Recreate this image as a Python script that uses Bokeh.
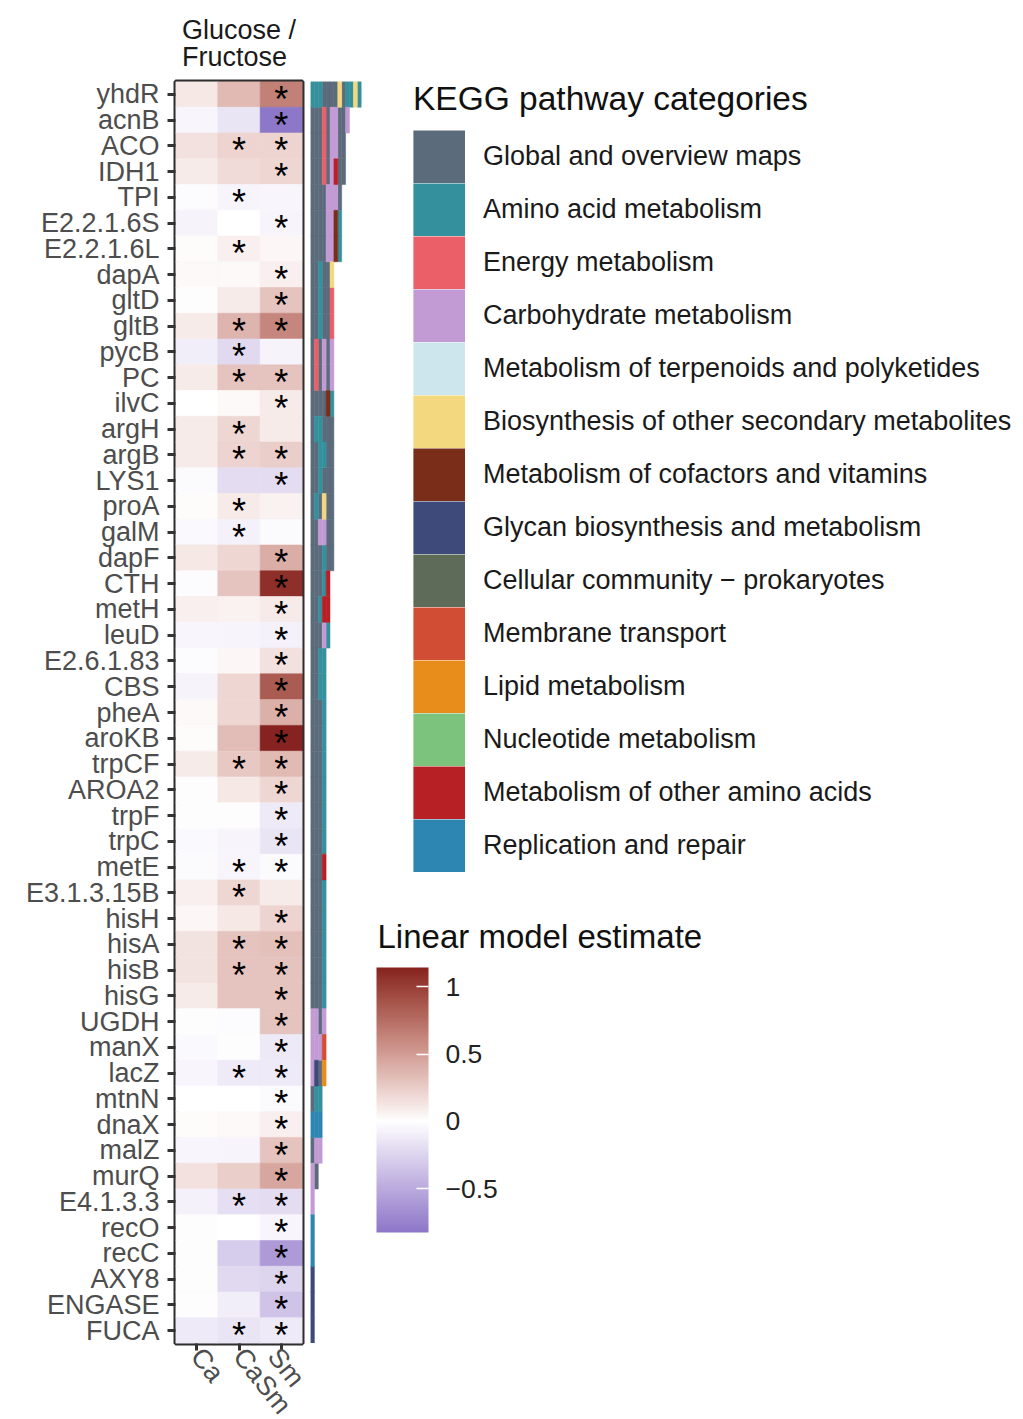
import numpy as np
from bokeh.plotting import figure
from bokeh.models import (ColumnDataSource, FactorRange, Range1d, LinearColorMapper, ColorBar,
                          FixedTicker, Legend, LegendItem, Title, Label, CustomJSTickFormatter,
                          AllLabels)
from bokeh.layouts import row
from bokeh.embed import file_html
from bokeh.resources import INLINE
from bokeh.core.properties import value

FONT = "Liberation Sans"

# ---------------- data ----------------
genes = ["yhdR", "acnB", "ACO", "IDH1", "TPI", "E2.2.1.6S", "E2.2.1.6L", "dapA", "gltD", "gltB",
         "pycB", "PC", "ilvC", "argH", "argB", "LYS1", "proA", "galM", "dapF", "CTH",
         "metH", "leuD", "E2.6.1.83", "CBS", "pheA", "aroKB", "trpCF", "AROA2", "trpF", "trpC",
         "metE", "E3.1.3.15B", "hisH", "hisA", "hisB", "hisG", "UGDH", "manX", "lacZ", "mtnN",
         "dnaX", "malZ", "murQ", "E4.1.3.3", "recO", "recC", "AXY8", "ENGASE", "FUCA"]

treatments = ["Ca", "CaSm", "Sm"]

est_Ca = [0.12, -0.05, 0.15, 0.10, -0.02, -0.07, 0.02, 0.03, 0.01, 0.10,
          -0.10, 0.10, 0.00, 0.10, 0.10, -0.03, 0.02, -0.04, 0.12, -0.02,
          0.08, -0.05, -0.02, -0.07, 0.03, 0.02, 0.10, 0.01, -0.01, -0.04,
          -0.03, 0.08, 0.04, 0.14, 0.14, 0.10, -0.01, -0.04, -0.05, 0.00,
          0.02, -0.05, 0.15, -0.08, -0.01, -0.01, -0.01, 0.01, -0.12]
est_CaSm = [0.35, -0.15, 0.22, 0.18, -0.06, 0.00, 0.08, 0.03, 0.10, 0.38,
            -0.22, 0.30, 0.03, 0.20, 0.22, -0.20, 0.10, -0.08, 0.20, 0.30,
            0.06, -0.06, 0.04, 0.20, 0.20, 0.33, 0.28, 0.12, -0.01, -0.06,
            -0.06, 0.20, 0.12, 0.30, 0.30, 0.30, -0.02, -0.01, -0.12, 0.00,
            0.03, -0.06, 0.25, -0.18, 0.00, -0.30, -0.22, -0.10, -0.15]
est_Sm = [0.65, -0.825, 0.22, 0.20, -0.05, -0.06, 0.04, 0.08, 0.30, 0.62,
          -0.07, 0.30, 0.10, 0.10, 0.25, -0.20, 0.06, -0.03, 0.42, 1.08,
          0.10, -0.08, 0.15, 0.85, 0.40, 1.144, 0.35, 0.20, -0.12, -0.15,
          -0.03, 0.10, 0.22, 0.32, 0.30, 0.30, 0.30, -0.13, -0.12, -0.03,
          0.08, 0.30, 0.45, -0.20, -0.05, -0.60, -0.25, -0.35, -0.12]

sig_Ca = [0, 0, 0, 0, 0, 0, 0, 0, 0, 0,
          0, 0, 0, 0, 0, 0, 0, 0, 0, 0,
          0, 0, 0, 0, 0, 0, 0, 0, 0, 0,
          0, 0, 0, 0, 0, 0, 0, 0, 0, 0,
          0, 0, 0, 0, 0, 0, 0, 0, 0]
sig_CaSm = [0, 0, 1, 0, 1, 0, 1, 0, 0, 1,
            1, 1, 0, 1, 1, 0, 1, 1, 0, 0,
            0, 0, 0, 0, 0, 0, 1, 0, 0, 0,
            1, 1, 0, 1, 1, 0, 0, 0, 1, 0,
            0, 0, 0, 1, 0, 0, 0, 0, 1]
sig_Sm = [1, 1, 1, 1, 0, 1, 0, 1, 1, 1,
          0, 1, 1, 0, 1, 1, 0, 0, 1, 1,
          1, 1, 1, 1, 1, 1, 1, 1, 1, 1,
          1, 0, 1, 1, 1, 1, 1, 1, 1, 1,
          1, 1, 1, 1, 1, 1, 1, 1, 1]

# KEGG pathway memberships of every gene, one letter per pathway (left to right)
kegg_codes = ["AAAGGGGBGAABA", "GGGEGCCGGC", "GGGEGCCGG", "GGGEGCOGG", "GGGGCCCG",
              "GGGGCCVA", "GGGGCCVA", "GGAGGB", "GGAGGE", "GGAGGE",
              "GEGCGC", "GEGCGC", "GGGGVA", "GAAGGG", "GGAAGG",
              "GGAGGG", "GAGBGG", "GGCCGG", "GGGAGG", "GGGAO",
              "GGAOO", "GGGCA", "GGAA", "GGAA", "GGGA",
              "GGGA", "GGGA", "GGGA", "GGGA", "GGGA",
              "GGGO", "GGGA", "GGGA", "GGGA", "GGGA",
              "GGGA", "CCGC", "CCCM", "CYGL", "GAA",
              "RRR", "GCC", "CG", "C", "R",
              "R", "Y", "Y", "Y"]

category_codes = ["G", "A", "E", "C", "T", "B", "V", "Y", "P", "M", "L", "N", "O", "R"]
category_names = ["Global and overview maps", "Amino acid metabolism", "Energy metabolism",
                  "Carbohydrate metabolism", "Metabolism of terpenoids and polyketides",
                  "Biosynthesis of other secondary metabolites", "Metabolism of cofactors and vitamins",
                  "Glycan biosynthesis and metabolism", "Cellular community \u2212 prokaryotes",
                  "Membrane transport", "Lipid metabolism", "Nucleotide metabolism",
                  "Metabolism of other amino acids", "Replication and repair"]
category_colors = ["#5b6b7b", "#35909d", "#ea5f68", "#c29bd4", "#cde6ee", "#f3d880", "#7a2d18",
                   "#3d4a7a", "#5e6b58", "#d14d33", "#e88c1b", "#7cc37e", "#b72126", "#2d86b2"]

cbar_ticks = [1, 0.5, 0, -0.5]


# ---------------- colour scale (white midpoint, interpolated in Lab) ----------------
def _srgb_to_lab(rgb):
    c = np.asarray(rgb, dtype=float) / 255.0
    c = np.where(c > 0.04045, ((c + 0.055) / 1.055) ** 2.4, c / 12.92)
    m = np.array([[0.4124, 0.3576, 0.1805], [0.2126, 0.7152, 0.0722], [0.0193, 0.1192, 0.9505]])
    xyz = m @ c / np.array([0.95047, 1.0, 1.08883])
    f = np.where(xyz > 0.008856, np.cbrt(xyz), 7.787 * xyz + 16 / 116)
    return np.array([116 * f[1] - 16, 500 * (f[0] - f[1]), 200 * (f[1] - f[2])])


def _lab_to_hex(lab):
    L, a, b = lab
    fy = (L + 16) / 116
    fx = fy + a / 500
    fz = fy - b / 200
    f = np.array([fx, fy, fz])
    xyz = np.where(f ** 3 > 0.008856, f ** 3, (f - 16 / 116) / 7.787) * np.array([0.95047, 1.0, 1.08883])
    mi = np.array([[3.2406, -1.5372, -0.4986], [-0.9689, 1.8758, 0.0415], [0.0557, -0.2040, 1.0570]])
    c = mi @ xyz
    c = np.where(c > 0.0031308, 1.055 * np.clip(c, 0, None) ** (1 / 2.4) - 0.055, 12.92 * c)
    c = np.clip(np.round(c * 255), 0, 255).astype(int)
    return "#%02x%02x%02x" % tuple(c)


all_vals = est_Ca + est_CaSm + est_Sm
vmin, vmax = min(all_vals), max(all_vals)
lab_low = _srgb_to_lab([0x8d, 0x77, 0xc8])
lab_mid = _srgb_to_lab([255, 255, 255])
lab_high = _srgb_to_lab([0x86, 0x22, 0x1f])
palette = []
for lv in np.linspace(vmin, vmax, 256):
    if lv >= 0:
        lab = lab_mid + (lab_high - lab_mid) * (lv / vmax)
    else:
        lab = lab_mid + (lab_low - lab_mid) * (lv / vmin)
    palette.append(_lab_to_hex(lab))
mapper = LinearColorMapper(palette=palette, low=vmin, high=vmax)

# ---------------- heatmap ----------------
y_factors = list(reversed(genes))
est = {"Ca": est_Ca, "CaSm": est_CaSm, "Sm": est_Sm}
sig = {"Ca": sig_Ca, "CaSm": sig_CaSm, "Sm": sig_Sm}
cx, cy, cv, sx, sy, st = [], [], [], [], [], []
for t in treatments:
    for g, v, s in zip(genes, est[t], sig[t]):
        cx.append(t); cy.append(g); cv.append(v)
        if s:
            sx.append(t); sy.append(g); st.append("*")
cells = ColumnDataSource(dict(x=cx, y=cy, v=cv))
stars = ColumnDataSource(dict(x=sx, y=sy, s=st))

FRAME_H = 1262
TOP = 81
heat = figure(x_range=FactorRange(*treatments), y_range=FactorRange(*y_factors),
              frame_width=127, frame_height=FRAME_H, min_border_left=175, min_border_right=8,
              min_border_top=TOP, min_border_bottom=0,
              output_backend="svg", toolbar_location=None, tools="")
heat.rect(x="x", y="y", width=1, height=1, source=cells,
          fill_color={"field": "v", "transform": mapper},
          line_color={"field": "v", "transform": mapper}, line_width=0.6)
heat.text(x="x", y="y", text="s", source=stars, text_align="center", text_baseline="middle",
          text_font=value(FONT), text_font_size="36px", text_color="black", y_offset=5)

heat.grid.visible = False
heat.outline_line_color = "#2e2e2e"
heat.outline_line_width = 4
heat.background_fill_color = "white"
for ax in (heat.xaxis[0], heat.yaxis[0]):
    ax.axis_line_color = None
    ax.major_tick_line_color = "#333333"
    ax.major_tick_line_width = 3
    ax.major_tick_out = 8
    ax.major_tick_in = 0
    ax.minor_tick_line_color = None
    ax.major_label_text_font = FONT
    ax.major_label_text_font_size = "27px"
    ax.major_label_text_color = "#4d4d4d"
    ax.major_label_standoff = 8
heat.xaxis.major_tick_out = 7
heat.xaxis.major_label_standoff = 1
heat.xaxis.major_label_orientation = -0.9

heat.add_layout(Title(text="Glucose /\nFructose", align="center", text_font=FONT,
                      text_font_size="27px", text_font_style="normal", text_color="#1a1a1a",
                      text_line_height=0.89, standoff=19), "above")

# ---------------- KEGG strip + legends ----------------
UNIT_PX = 3.9
STRIP_W = 713
strip = figure(x_range=Range1d(0, STRIP_W / UNIT_PX), y_range=FactorRange(*y_factors),
               frame_width=STRIP_W, frame_height=FRAME_H, min_border_left=0, min_border_right=0,
               min_border_top=TOP, min_border_bottom=0,
               x_axis_location=None, y_axis_location=None,
               output_backend="svg", toolbar_location=None, tools="")
strip.grid.visible = False
strip.outline_line_color = None

proxy_src = ColumnDataSource(dict(y=[genes[0]], left=[0], right=[0]))
items = []
for code, name, color in zip(category_codes, category_names, category_colors):
    ys, lefts, rights = [], [], []
    for g, seq in zip(genes, kegg_codes):
        for k, c in enumerate(seq):
            if c == code:
                ys.append(g); lefts.append(k); rights.append(k + 1)
    src = ColumnDataSource(dict(y=ys, left=lefts, right=rights))
    strip.hbar(y="y", left="left", right="right", height=1, source=src,
               fill_color=color, line_color=color, line_width=0.5)
    # legend key (not drawn in the plot area itself)
    key = strip.hbar(y="y", left="left", right="right", height=1, source=proxy_src,
                     fill_color=color, line_color=color, line_width=10.6, line_join="miter",
                     visible=False)
    items.append(LegendItem(label=name, renderers=[key]))

legend = Legend(items=items, location=(103, 471), title="KEGG pathway categories",
                glyph_width=52, glyph_height=53, spacing=0, label_standoff=18,
                padding=0, margin=0, border_line_color=None, background_fill_alpha=0,
                inactive_fill_alpha=0,
                label_text_font=FONT, label_text_font_size="27px", label_text_color="#1a1a1a",
                title_text_font=FONT, title_text_font_size="33.5px", title_text_font_style="normal",
                title_text_color="#111111", title_standoff=12)
strip.add_layout(legend)

cbar = ColorBar(color_mapper=mapper, ticker=FixedTicker(ticks=cbar_ticks),
                formatter=CustomJSTickFormatter(
                    code="return tick < 0 ? '\u2212' + Math.abs(tick) : String(tick)"),
                major_label_policy=AllLabels(),
                width=52, height=265, location=(66, 111), orientation="vertical",
                padding=0, margin=0, label_standoff=17,
                major_label_text_font=FONT, major_label_text_font_size="26.5px",
                major_label_text_color="#222222",
                major_tick_line_color="white", major_tick_line_width=1.5,
                major_tick_in=12, major_tick_out=0, minor_tick_line_color=None,
                bar_line_color=None, border_line_color=None, background_fill_alpha=0)
strip.add_layout(cbar)
strip.add_layout(Label(x=67, y=FRAME_H - (936 - TOP), x_units="screen", y_units="screen",
                       text="Linear model estimate", text_baseline="middle", text_font=FONT,
                       text_font_size="33px", text_color="#111111"))

layout = row(heat, strip)
open("out.html", "w").write(file_html(layout, INLINE))
